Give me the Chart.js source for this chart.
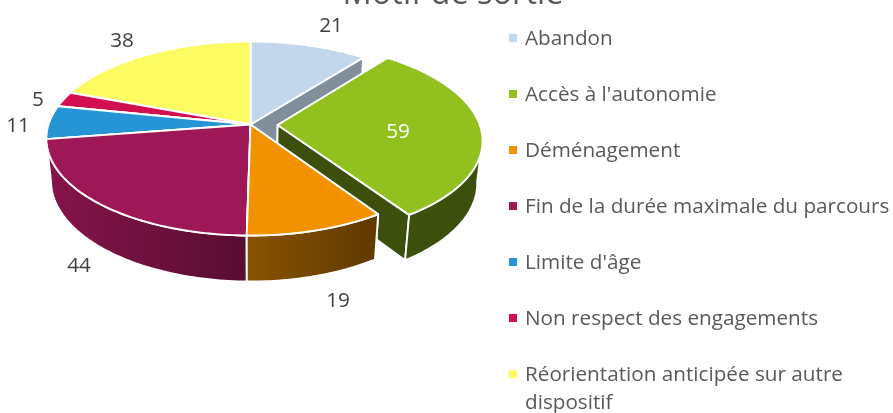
<!DOCTYPE html>
<html><head><meta charset="utf-8">
<style>html,body{margin:0;padding:0;background:#fff}canvas{display:block}</style>
<script src="https://cdn.jsdelivr.net/npm/chart.js@4/dist/chart.umd.js"></script>
</head><body>
<canvas id="c" width="893" height="413"></canvas>
<script>
const titleText = "Motif de sortie";
const categories = ["Abandon","Accès à l'autonomie","Déménagement","Fin de la durée maximale du parcours","Limite d'âge","Non respect des engagements","Réorientation anticipée sur autre dispositif"];
const legendLines = [["Abandon"],["Accès à l'autonomie"],["Déménagement"],["Fin de la durée maximale du parcours"],["Limite d'âge"],["Non respect des engagements"],["Réorientation anticipée sur autre","dispositif"]];
const values = [21,59,19,44,11,5,38];
const colors = ["#c3d7ec","#92c01f","#f39200","#9e1858","#2595d6","#d3104f","#fcfc62"];
const offsets = [0,26,0,0,0,0,0];
const cutShade = [0.66,0.41,0.5,0.5,0.5,0.5,0.5];
const labelPos = [[331,26],[398,132],[338,301],[79,266],[18,126],[38,100],[122,41]];
const labelColors = ["#404040","#ffffff","#404040","#404040","#404040","#404040","#404040"];

const P = {cx:250.5, cy:124.5, A:202, B:95, C:43, k:0.1443, m:0.023};
const FONT = '"Open Sans", sans-serif';
function project(u,v,z){
  const w = 1 - P.k*v + P.m*z;
  return [P.cx + P.A*u/w, P.cy + (P.B*v + P.C*z)/w];
}
function rgb(hex,f){
  const n=parseInt(hex.slice(1),16);
  return `rgb(${Math.round((n>>16&255)*f)},${Math.round((n>>8&255)*f)},${Math.round((n&255)*f)})`;
}
function wallGradient(ctx,col){
  const g=ctx.createLinearGradient(47,0,375,0);
  g.addColorStop(0,rgb(col,0.85));
  g.addColorStop(200/328,rgb(col,0.56));
  g.addColorStop(1,rgb(col,0.40));
  return g;
}
const pie3d = {
  id:'pie3d',
  beforeDatasetDraw(chart){
    const ctx=chart.ctx, arcs=chart.getDatasetMeta(0).data;
    const items=arcs.map((el,i)=>{
      const R=el.outerRadius;
      const a0=el.startAngle, a1=el.endAngle, mid=(a0+a1)/2;
      const off=(el.options.offset||0)/R;
      const ox=Math.cos(mid)*off, oy=Math.sin(mid)*off;
      return {i,a0,a1,ox,oy,v:oy+Math.sin(mid)*0.6,col:el.options.backgroundColor};
    });
    items.sort((a,b)=>a.v-b.v);
    const pt=(it,a,z)=>project(it.ox+Math.cos(a),it.oy+Math.sin(a),z);
    const apex=(it,z)=>project(it.ox,it.oy,z);
    function stroke(){ctx.lineWidth=1.9;ctx.strokeStyle='#ffffff';ctx.lineJoin='round';ctx.stroke();}
    function poly(pts,fill){
      ctx.beginPath();pts.forEach((p,j)=>j?ctx.lineTo(p[0],p[1]):ctx.moveTo(p[0],p[1]));ctx.closePath();
      ctx.fillStyle=fill;ctx.fill();stroke();
    }
    function arcPts(it,s,e,z){
      const n=Math.max(2,Math.ceil((e-s)/0.02)),r=[];
      for(let j=0;j<=n;j++)r.push(pt(it,s+(e-s)*j/n,z));
      return r;
    }
    for(const it of items){
      const cut=rgb(it.col,cutShade[it.i]);
      for(const a of [it.a0,it.a1]){
        poly([apex(it,0),pt(it,a,0),pt(it,a,1),apex(it,1)],cut);
      }
      const vis0=Math.max(it.a0,Math.asin(P.k)), vis1=Math.min(it.a1,Math.PI-Math.asin(P.k));
      if(vis1>vis0){
        const top=arcPts(it,vis0,vis1,0), bot=arcPts(it,vis0,vis1,1).reverse();
        poly(top.concat(bot), it.i===1?rgb(it.col,0.41):wallGradient(ctx,it.col));
      }
      poly([apex(it,0)].concat(arcPts(it,it.a0,it.a1,0)),it.col);
    }
    return false;
  },
  afterDraw(chart){
    const ctx=chart.ctx;
    ctx.save();
    ctx.textBaseline='middle';ctx.textAlign='center';
    ctx.font=`20.7px ${FONT}`;
    values.forEach((v,i)=>{ctx.fillStyle=labelColors[i];ctx.fillText(String(v),labelPos[i][0],labelPos[i][1]);});
    ctx.fillStyle='#595959';ctx.font=`32.5px ${FONT}`;ctx.textBaseline='alphabetic';
    ctx.fillText(titleText,453,4);
    ctx.textAlign='left';ctx.textBaseline='middle';ctx.font=`20.7px ${FONT}`;
    legendLines.forEach((ls,i)=>{
      const y=39+56*i;
      ctx.fillStyle=colors[i];ctx.fillRect(509,y-5,8,8);
      ctx.fillStyle='#595959';
      ls.forEach((t,j)=>ctx.fillText(t,525,y+28*j));
    });
    ctx.restore();
  }
};
new Chart(document.getElementById('c'),{
  type:'pie',
  data:{labels:categories,datasets:[{data:values,backgroundColor:colors,offset:offsets,borderWidth:0}]},
  options:{
    responsive:false,animation:false,
    layout:{padding:0},
    plugins:{legend:{display:false},title:{display:false},tooltip:{enabled:false}}
  },
  plugins:[pie3d]
});
</script>
</body></html>
